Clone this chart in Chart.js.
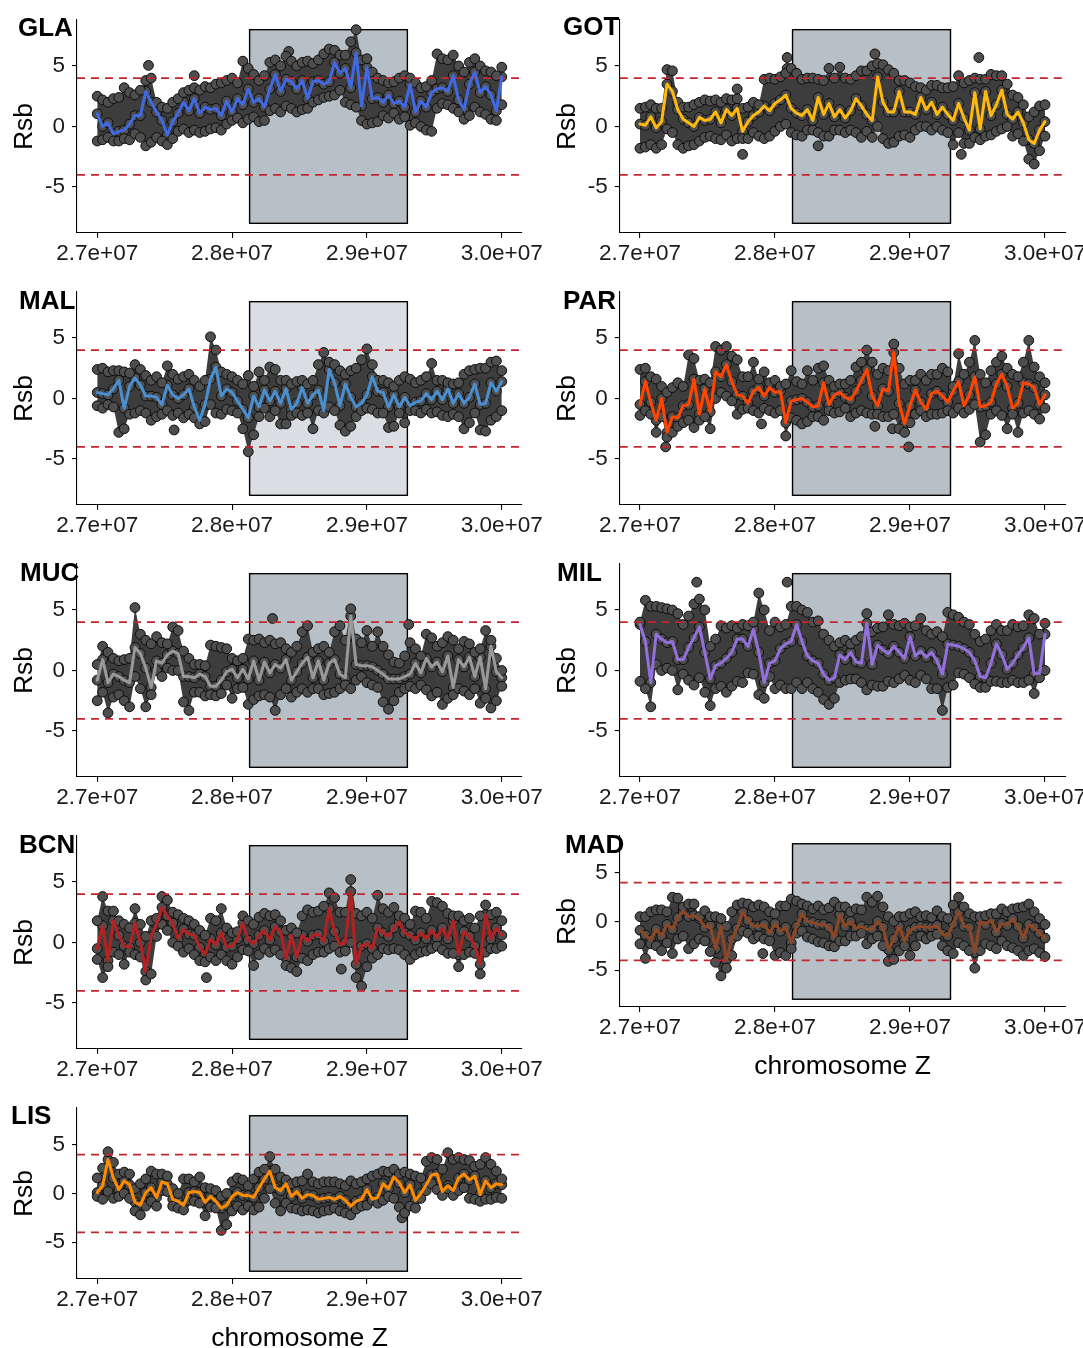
<!DOCTYPE html>
<html>
<head>
<meta charset="utf-8">
<script src="https://cdn.jsdelivr.net/npm/chart.js@4.4.1/dist/chart.umd.min.js"></script>
<style>
html,body{margin:0;padding:0;background:#fff;overflow:hidden;width:1083px;height:1348px;}
canvas{position:absolute;}
.tag{position:absolute;font-family:"Liberation Sans",Arial,Helvetica,sans-serif;font-weight:bold;font-size:26px;line-height:30px;color:#000;white-space:nowrap;}
</style>
</head>
<body>
<script>
// ---------- shared axis data ----------
const positionsMb = [
27.00,27.04,27.08,27.12,27.16,27.20,27.24,27.28,27.32,27.36,
27.40,27.44,27.48,27.52,27.56,27.60,27.64,27.68,27.72,27.76,
27.80,27.84,27.88,27.92,27.96,28.00,28.04,28.08,28.12,28.16,
28.20,28.24,28.28,28.32,28.36,28.40,28.44,28.48,28.52,28.56,
28.60,28.64,28.68,28.72,28.76,28.80,28.84,28.88,28.92,28.96,
29.00,29.04,29.08,29.12,29.16,29.20,29.24,29.28,29.32,29.36,
29.40,29.44,29.48,29.52,29.56,29.60,29.64,29.68,29.72,29.76,
29.80,29.84,29.88,29.92,29.96,30.00];
const xTickValues = [27000000, 28000000, 29000000, 30000000];
const xTickLabels = ['2.7e+07', '2.8e+07', '2.9e+07', '3.0e+07'];
const yTickValues = [-5, 0, 5];
const yTickLabels = ['-5', '0', '5'];
const thresholds = [4, -4];
const regionMb = [28.13, 29.30];
const regionY = [-8, 8];

// ---------- GLA ----------
const GLA_mean = [1.05,0.0,0.3,-0.6,-0.4,-0.3,0.2,0.9,0.9,2.9, 2.0,1.2,0.5,-0.7,0.4,1.1,2.0,1.3,2.3,1.1, 1.6,1.4,1.5,0.9,2.1,1.2,2.3,1.8,3.1,2.0, 2.3,1.6,3.1,4.3,2.9,3.9,3.7,3.1,3.8,2.3, 3.7,3.8,3.5,3.7,5.3,4.4,4.8,3.2,6.1,1.7, 4.9,2.3,2.4,2.0,2.6,1.9,2.1,1.6,3.5,1.2, 2.1,1.6,2.8,3.1,3.2,2.9,4.2,2.2,1.4,3.5, 4.5,2.8,3.3,2.6,1.3,4.1];
const GLA_high = [2.5,2.2,2.0,2.3,2.4,3.2,2.8,2.6,3.0,3.8, 4.0,2.0,1.6,1.5,2.0,2.3,2.8,3.0,3.2,3.0, 3.3,3.2,3.5,3.6,3.8,4.0,3.6,5.4,4.8,4.3, 3.8,4.2,5.3,5.5,5.0,5.8,5.4,5.0,5.3,5.4, 5.2,5.5,6.0,6.4,6.3,5.9,5.9,7.0,8.0,5.5, 5.6,4.5,4.0,3.8,3.6,3.7,4.0,4.2,4.0,3.6, 3.2,3.3,3.8,6.0,5.6,5.5,5.9,5.0,4.5,5.3, 5.6,5.0,4.6,4.5,4.2,4.9];
const GLA_low = [-1.2,-1.1,-0.9,-1.2,-1.2,-1.0,-1.1,-0.6,-0.9,-1.6, -1.3,-0.9,-1.2,-1.5,-1.0,-0.4,-0.2,-0.5,-0.3,-0.5, -0.4,-0.2,-0.1,-0.3,0.2,0.5,0.7,0.3,0.6,0.8, 0.4,0.5,1.3,1.5,1.2,1.7,1.5,1.2,1.4,1.5, 2.0,2.2,2.4,2.5,2.6,3.0,2.0,1.8,1.6,0.5, 0.2,0.3,0.4,0.9,0.7,1.1,0.6,0.8,0.1,0.3, 0.0,-0.3,-0.4,1.5,1.9,1.8,1.5,1.2,0.6,0.9, 1.6,1.2,1.0,0.6,0.5,1.8];
const GLA_outliers = [[27.38,5.05],[27.72,4.2],[28.42,6.2]];

// ---------- GOT ----------
const GOT_mean = [0.2,0.1,0.8,-0.1,0.4,3.5,2.9,1.4,0.6,0.3, 0.0,0.75,0.5,0.6,1.2,0.3,1.4,0.9,1.5,-0.4, 0.4,0.9,1.2,1.7,1.3,1.9,2.2,2.6,1.5,1.1, 0.9,1.4,0.5,2.4,1.0,1.9,0.8,1.4,0.7,1.3, 2.3,1.7,1.0,0.5,4.1,2.0,1.2,1.2,2.9,1.2, 1.2,1.0,2.4,1.4,2.0,1.0,1.6,1.0,0.5,1.9, 0.7,-0.3,2.8,-0.2,2.9,0.9,1.8,3.0,1.0,0.6, 1.2,0.3,-1.1,-1.4,-0.3,0.4];
const GOT_high = [1.5,1.6,1.8,1.5,1.5,4.7,4.6,2.0,1.6,1.6, 1.8,2.0,2.2,2.1,2.2,2.0,2.3,2.2,2.3,1.5, 1.6,2.0,1.8,3.9,4.0,3.9,4.1,4.4,4.8,4.4, 3.9,4.0,4.0,3.9,3.8,4.8,4.0,4.9,4.0,3.9, 4.2,4.6,4.6,5.0,5.2,5.1,4.7,4.4,3.8,3.8, 3.6,3.3,3.2,3.0,3.4,3.4,3.2,3.2,3.3,4.2, 3.6,3.8,4.0,3.9,3.9,4.3,4.2,4.2,3.5,2.6, 2.4,1.8,0.8,1.2,1.7,1.8];
const GOT_low = [-1.8,-1.7,-1.5,-1.8,-1.5,-0.2,-0.5,-1.5,-1.8,-1.6, -1.5,-1.2,-0.9,-0.8,-1.0,-1.1,-0.7,-1.2,-1.0,-1.0, -1.0,-0.5,-0.8,-1.0,-0.8,-0.4,0.0,0.2,-0.5,-0.7, -0.8,-0.3,-0.3,-0.5,-0.8,-0.8,-0.3,-0.3,-0.5,-0.3, -0.5,-0.9,-0.4,-0.9,0.0,-1.0,-1.4,-1.3,-0.8,-0.7, -0.9,-0.3,0.0,0.0,-0.3,0.0,-0.3,-0.5,-1.5,-0.5, -1.4,-1.4,-0.9,-1.1,-0.8,-0.7,-0.4,-0.2,0.0,-0.8, -0.6,-1.2,-2.7,-3.1,-2.0,-0.8];
const GOT_outliers = [[27.72,3.1],[27.76,-2.3],[28.09,5.7],[28.09,4.8],[28.32,-1.6],[28.74,6.0],[29.38,-2.3],[29.51,5.7]];

// ---------- MAL ----------
const MAL_mean = [0.5,0.4,0.3,0.8,1.5,-0.8,1.0,1.7,1.1,0.2, 0.2,0.1,-0.5,1.1,0.3,0.0,0.3,0.8,-0.7,-1.8, -0.5,1.6,2.6,0.2,0.8,0.5,-0.2,-0.9,-1.6,0.2, -0.7,0.7,-0.2,0.6,-0.4,0.8,-0.9,-0.4,0.9,-0.4, 0.3,0.7,-1.0,2.4,1.3,-0.6,1.2,0.1,-0.7,-0.4, 0.3,1.8,0.6,0.5,-0.7,0.3,-0.7,0.1,-0.6,-0.3, -0.2,0.4,-0.1,0.6,-0.1,0.8,-0.4,0.4,-0.4,0.1, 1.2,-0.5,-0.4,1.3,0.6,1.4];
const MAL_high = [2.4,2.5,2.2,2.3,2.3,2.2,2.1,2.8,2.4,1.9, 1.5,1.8,1.3,2.7,2.0,1.6,1.8,2.0,1.5,1.0, 1.5,5.1,4.0,2.2,2.0,1.8,1.5,1.2,1.9,1.0, 2.2,1.5,2.6,2.4,1.5,1.5,1.2,1.4,1.5,1.2, 1.5,2.8,3.8,3.0,2.8,2.3,2.0,2.3,2.5,3.2, 4.1,2.8,1.5,1.5,1.3,1.0,1.5,1.8,1.6,1.3, 1.5,1.8,2.9,1.5,1.5,1.3,1.2,1.3,2.0,2.3, 2.4,2.5,2.5,3.0,3.1,2.3];
const MAL_low = [-0.6,-0.8,-0.5,-0.7,-2.8,-2.5,-1.3,-1.2,-1.0,-1.2, -1.8,-1.5,-1.3,-1.0,-1.4,-1.2,-1.6,-1.3,-1.6,-2.1, -1.9,-0.5,-1.2,-1.3,-0.9,-1.0,-1.2,-2.5,-4.4,-3.0, -1.5,-0.8,-1.5,-1.0,-2.1,-2.1,-1.4,-1.2,-1.4,-1.2, -2.5,-1.0,-1.2,-0.7,-1.0,-2.2,-2.7,-2.3,-1.5,-1.0, -0.8,-0.9,-1.2,-1.2,-2.4,-2.3,-1.2,-2.0,-1.0,-1.0, -1.2,-0.9,-1.2,-1.1,-1.4,-1.5,-1.3,-1.5,-2.5,-2.0, -1.2,-2.6,-2.7,-1.8,-1.5,-1.0];
const MAL_outliers = [[27.57,-2.6]];

// ---------- PAR ----------
const PAR_mean = [-0.5,1.4,-0.3,-1.8,0.0,-2.8,-1.5,-1.6,-0.6,-0.5, 1.6,-1.3,0.8,-1.1,2.2,1.8,2.8,1.4,0.3,0.2, -0.4,0.6,0.9,0.2,0.9,0.5,0.6,-2.0,-0.2,-0.1, 0.0,-0.3,-0.7,-0.6,1.3,-0.5,0.3,0.5,0.1,-0.1, 0.6,1.5,2.4,0.2,-0.6,0.8,0.6,3.8,-0.4,-2.1, -0.6,0.7,-0.3,-0.9,0.4,0.6,0.2,-0.3,0.6,1.4, -0.6,0.3,1.8,-0.7,-0.6,-0.3,1.2,2.0,1.0,-0.8, -0.4,1.3,1.2,0.9,-0.5,0.3];
const PAR_high = [2.4,2.5,1.8,1.6,1.0,0.5,0.9,1.3,1.0,3.6, 3.3,1.5,1.6,1.3,4.3,4.0,4.3,3.5,3.2,1.8, 1.8,3.0,1.6,2.2,1.3,1.5,1.0,1.2,2.3,1.4, 1.2,2.3,1.5,2.5,2.7,1.5,1.0,1.2,1.2,1.5, 2.6,3.0,4.0,3.0,2.0,2.5,2.3,4.5,2.5,1.2, 1.5,1.5,2.0,1.5,2.0,2.0,2.5,2.2,1.0,3.7, 2.0,3.0,4.8,2.0,1.3,2.3,3.0,3.5,2.5,2.0, 1.8,3.0,4.8,2.6,1.8,1.3];
const PAR_low = [-1.4,-1.0,-1.3,-2.8,-1.5,-3.2,-2.8,-2.3,-2.0,-1.8, -2.4,-1.8,-1.5,-2.5,0.0,0.5,0.2,-0.2,-1.3,-0.9, -0.8,-1.0,-1.2,-0.8,-1.0,-1.2,-1.0,-3.1,-1.6,-1.8, -2.1,-1.9,-1.5,-1.5,-1.8,-1.0,-1.2,-1.1,-0.8,-1.5, -1.2,-1.0,-1.2,-1.3,-1.3,-1.5,-1.5,-1.3,-2.5,-2.8, -2.0,-1.3,-1.0,-1.5,-1.3,-1.3,-1.2,-1.0,-1.2,-0.8, -1.2,-0.9,-0.5,-3.6,-3.0,-1.3,-1.0,-1.4,-2.5,-1.3, -2.8,-1.2,-1.0,-1.3,-1.7,-0.8];
const PAR_outliers = [[27.19,-4.0],[27.90,-2.1],[28.74,-2.3],[28.87,-2.5],[28.99,-4.0]];

// ---------- MUC ----------
const MUC_mean = [-0.8,0.9,-1.0,-0.3,-0.5,-0.8,-1.0,1.9,1.4,0.2, -1.4,0.8,0.6,1.3,1.6,1.4,-0.5,-0.5,-0.6,-0.3, -0.5,-1.3,-1.3,-0.8,-0.1,0.1,-0.6,0.1,-0.7,0.8, -0.8,0.7,-0.2,0.5,0.2,0.9,-0.8,-0.1,0.6,1.1, -0.6,0.8,-0.8,0.6,0.9,-0.3,-0.6,4.5,0.5,0.4, 0.4,0.3,0.0,-0.3,-0.7,-0.7,-0.7,-0.5,-0.3,0.6, -0.2,1.0,0.3,0.7,-0.1,1.2,-1.4,0.9,0.3,1.1, -0.5,1.1,-1.5,2.0,-0.1,-0.6];
const MUC_high = [0.5,2.0,1.5,1.0,0.8,0.9,1.0,5.2,3.0,2.5, 2.2,2.8,2.3,2.2,3.6,3.3,1.6,1.0,0.5,0.5, 0.4,2.1,2.0,1.9,1.8,1.0,0.8,1.0,2.6,2.5, 2.6,2.3,2.5,2.2,2.3,1.8,1.5,2.0,3.2,3.7, 1.5,1.8,2.0,1.5,3.2,3.7,2.5,5.1,2.6,2.3, 3.3,2.0,3.2,2.0,1.3,0.7,0.6,1.2,2.3,1.8, 1.2,3.0,2.7,2.0,2.3,2.8,2.5,1.8,2.4,2.2, 1.5,1.8,3.3,2.5,1.0,0.0];
const MUC_low = [-2.5,-1.8,-3.5,-2.2,-2.0,-2.5,-3.0,-0.5,-1.5,-3.0, -2.0,0.0,-0.5,0.2,0.0,0.0,-2.6,-3.3,-1.8,-1.8, -2.1,-2.0,-2.1,-1.9,-1.2,-2.3,-1.5,-1.4,-2.8,-2.4, -2.1,-2.0,-2.2,-3.3,-2.0,-1.5,-2.2,-1.8,-1.5,-1.8, -1.5,-1.5,-2.0,-1.9,-1.8,-1.5,-1.2,-1.5,-0.8,-0.5, -1.0,-1.2,-1.4,-2.6,-3.2,-2.5,-1.8,-1.5,-1.3,-1.5, -1.2,-1.6,-2.1,-1.8,-2.8,-2.3,-2.0,-1.5,-1.7,-2.0, -1.5,-2.7,-2.3,-3.1,-2.5,-1.3];
const MUC_outliers = [[28.30,4.3],[29.31,3.8]];

// ---------- MIL ----------
const MIL_mean = [3.8,2.4,-1.0,3.0,2.6,2.3,2.4,0.9,0.9,1.9, 2.7,3.6,1.5,-0.7,0.4,0.6,1.0,1.5,2.6,2.6, 2.0,3.4,1.5,-1.0,0.6,0.8,1.8,2.2,2.4,3.8, 2.4,1.2,0.8,0.6,-0.3,-0.8,-0.6,1.3,0.9,1.5, 0.7,0.6,3.9,0.5,2.1,1.7,1.4,2.0,1.5,1.0, 2.8,1.2,1.6,1.1,1.5,0.8,-0.3,2.2,2.1,2.0, 1.8,1.5,0.8,-0.5,-0.6,0.6,2.2,1.3,0.1,0.6, 1.3,1.9,2.7,-0.3,-0.2,3.0];
const MIL_high = [4.0,5.8,5.3,5.3,5.2,5.1,5.0,4.7,3.8,4.5, 5.5,5.9,5.0,2.0,2.6,3.7,3.5,3.7,3.5,3.8, 3.7,4.0,6.4,5.0,3.3,4.0,3.6,3.8,5.3,5.3, 5.0,4.8,4.0,4.1,3.0,2.5,2.0,2.3,2.5,2.2, 2.5,2.8,4.7,3.2,3.5,3.6,4.6,3.8,3.7,3.9, 3.6,3.7,4.3,3.3,3.0,3.2,2.8,4.8,4.6,4.4, 4.0,3.8,3.0,2.4,2.6,3.3,3.8,3.3,3.3,3.8, 3.6,3.7,4.6,4.3,3.0,3.9];
const MIL_low = [-0.9,-1.5,-3.0,0.5,0.0,0.2,0.0,-1.6,-0.3,-0.8, -1.2,-0.6,-1.8,-2.9,-1.5,-1.3,-1.8,-1.3,-0.9,-1.0, -0.2,-0.3,-2.0,-2.3,-0.5,-1.5,-1.2,-1.5,-1.5,-1.0, -1.5,-1.0,-1.5,-1.8,-2.4,-2.8,-2.3,-1.0,-0.8,-0.7, -0.7,-1.0,-1.6,-1.2,-1.3,-1.3,-0.9,-1.0,-0.7,-0.4, -0.8,-1.0,-0.4,-0.7,-1.5,-1.5,-3.3,-1.4,-1.2,-0.2, -0.3,-0.6,-1.1,-1.4,-1.4,-0.9,-0.9,-1.0,-1.0,-0.8, -1.0,-1.0,-0.8,-1.9,-0.6,0.0];
const MIL_outliers = [[27.42,7.3],[28.09,7.3]];

// ---------- BCN ----------
const BCN_mean = [-0.5,1.4,-1.5,1.8,0.6,-0.3,-0.4,1.6,0.0,-2.4, 0.5,1.5,2.9,2.2,1.6,0.3,1.1,0.7,0.6,-0.4, -1.0,0.3,-0.2,0.8,-0.4,-0.3,0.3,1.6,0.2,-0.1, 0.6,1.0,0.2,1.3,0.9,-1.3,0.6,-1.2,0.6,0.1, 0.6,0.7,0.1,2.8,0.9,-0.2,0.0,4.2,-1.8,-0.3, -0.1,-0.5,1.2,0.8,0.5,1.2,1.7,0.8,0.6,0.2, 0.8,0.3,1.0,0.4,1.2,0.3,1.8,-1.0,0.9,0.5, -0.3,-1.8,2.3,0.3,1.2,0.6];
const BCN_high = [1.8,3.8,2.6,2.6,1.8,1.5,1.2,2.8,1.5,0.5, 1.8,2.0,3.8,3.5,2.5,2.3,2.0,1.8,1.5,1.0, 0.6,2.0,1.8,2.8,1.2,0.8,0.9,2.2,1.8,1.5, 2.1,2.4,2.2,2.3,1.8,1.0,1.2,0.8,2.2,2.7, 2.5,2.6,3.0,4.1,3.7,2.5,2.5,5.2,2.4,2.2, 2.5,2.0,3.9,2.8,2.5,2.9,2.2,2.0,1.5,2.6, 2.5,2.0,3.4,3.3,3.0,2.4,2.2,2.2,1.8,2.0, 1.2,2.2,3.1,2.3,2.5,1.8];
const BCN_low = [-1.4,-2.9,-2.0,-0.8,-1.0,-1.8,-0.8,-1.0,-1.2,-3.1, -2.6,0.5,1.5,1.0,0.0,-0.3,-0.8,-0.5,-1.0,-1.5, -1.6,-1.2,-1.5,-1.0,-1.5,-1.8,-1.2,-0.6,-0.7,-1.9, -1.0,-0.5,-0.8,-0.6,-1.0,-1.9,-2.1,-2.4,-1.3,-1.5, -1.0,-0.8,-0.8,-0.5,-0.3,-0.8,-0.7,0.0,-2.9,-3.6, -2.0,-1.3,-1.0,-0.5,-0.6,-0.5,-0.6,-1.0,-1.4,-1.0, -0.8,-0.7,-0.5,-0.3,-0.6,-0.9,-0.9,-2.0,-1.0,-0.8, -0.9,-2.6,-0.8,-0.5,-0.5,-0.3];
const BCN_outliers = [[27.81,-2.9],[28.81,-2.2]];

// ---------- MAD ----------
const MAD_mean = [-0.9,-1.4,-1.9,-0.8,-1.5,-0.3,-0.8,0.4,1.1,0.5, 0.6,0.3,-0.6,-0.4,-2.8,-0.5,-4.0,-1.8,-0.7,1.0, 0.1,-0.5,-0.5,-0.3,-1.2,-0.2,-1.0,-0.6,-2.2,-0.5, 0.8,0.0,-0.1,-0.3,-0.3,-0.6,-1.6,0.7,-0.5,0.0, -0.7,-0.5,-0.8,-0.8,0.0,-0.6,-2.9,-1.8,-0.5,-2.0, -0.9,-0.6,-0.5,-0.6,-0.6,-0.4,-1.3,-1.5,-0.2,1.0, -0.5,-0.6,-3.2,0.0,-0.3,0.2,-1.1,-0.2,-0.4,0.3, -0.5,-1.7,-0.3,-0.6,-1.2,-1.7];
const MAD_high = [0.5,0.5,1.0,1.2,1.2,1.0,2.5,2.4,1.5,1.8, 1.8,0.5,1.1,0.5,0.5,0.3,-0.5,1.0,1.7,1.9, 1.8,1.5,1.7,1.5,1.0,0.8,1.6,1.6,2.3,2.1, 1.8,1.6,1.3,1.6,1.2,1.4,2.0,1.5,1.5,1.0, 1.3,1.2,2.5,2.0,2.6,1.5,0.5,0.0,0.5,0.5, 0.8,1.0,0.5,0.6,0.4,1.1,0.5,0.3,1.7,2.5, 1.5,0.8,0.5,0.5,0.6,0.8,0.8,1.3,1.0,1.3, 1.4,1.5,1.8,1.0,0.3,-0.3];
const MAD_low = [-2.3,-3.8,-2.3,-2.5,-3.0,-2.2,-3.3,-1.8,-1.5,-2.8, -2.3,-1.8,-2.0,-3.1,-4.2,-5.6,-4.8,-3.5,-1.5,-1.0, -1.2,-1.8,-1.5,-1.8,-2.0,-3.5,-3.2,-3.5,-2.8,-1.2, -1.0,-1.6,-1.8,-2.1,-2.2,-2.5,-2.6,-2.0,-2.0,-1.5, -1.5,-1.2,-2.3,-1.8,-1.5,-2.5,-4.1,-3.9,-3.0,-2.5, -3.5,-2.5,-1.5,-1.8,-1.5,-1.3,-2.5,-3.0,-3.3,-2.2, -2.5,-3.0,-4.8,-3.0,-2.3,-2.5,-2.8,-2.0,-2.5,-2.7, -3.0,-3.5,-3.0,-2.8,-3.2,-3.6];
const MAD_outliers = [[27.91,-3.3]];

// ---------- LIS ----------
const LIS_mean = [0.1,0.8,3.5,1.6,0.4,1.3,0.9,-0.9,-1.2,0.1, 0.6,-0.4,1.2,1.0,-0.6,-0.8,-1.2,0.1,0.2,0.1, -0.9,-0.3,-0.8,-1.5,-1.2,-0.3,0.1,-0.2,-0.2,-0.4, 0.6,1.5,2.3,0.6,0.3,1.0,-0.3,0.2,-0.5,-0.1, -0.2,-0.6,-0.5,-0.4,-0.6,-0.3,-0.7,-1.3,-0.8,-0.6, 0.4,-0.6,-0.4,1.0,0.5,1.7,1.1,0.1,0.9,-0.7, 0.0,0.9,1.9,2.0,0.2,0.8,0.3,1.6,2.0,1.4, 1.8,-0.1,1.3,0.6,1.0,0.9];
const LIS_high = [1.6,2.6,4.3,3.2,2.0,2.2,2.0,0.5,1.0,1.5, 2.3,2.0,2.0,1.8,0.5,0.0,1.5,1.5,1.2,1.7, 0.6,0.5,0.3,-0.3,0.0,1.2,1.6,1.4,0.8,1.5, 2.2,2.5,3.8,2.5,1.7,1.4,1.0,1.2,1.3,2.0, 1.2,1.0,1.2,1.2,1.2,1.0,0.8,1.3,1.0,1.2, 1.5,1.8,2.0,2.3,2.2,2.5,2.0,2.2,2.0,1.8, 1.6,3.3,3.7,3.5,2.5,4.2,3.5,3.7,3.5,3.4, 2.8,3.0,3.7,3.0,2.3,1.5];
const LIS_low = [-0.3,-0.6,0.2,-0.5,-0.3,0.0,-0.5,-1.8,-2.2,-1.3, -0.8,-1.3,0.3,0.2,-1.3,-1.5,-1.7,-0.7,-0.8,-1.0, -2.3,-1.4,-1.5,-3.8,-3.2,-1.8,-1.3,-1.7,-1.3,-1.7, -1.4,-0.5,0.5,-1.0,-1.8,-1.0,-1.5,-1.6,-1.8,-1.7, -1.8,-2.0,-1.8,-1.7,-1.5,-1.8,-2.0,-2.2,-1.6,-1.3, -1.2,-0.7,-1.0,-0.7,-0.3,-0.5,-1.4,-2.0,-1.3,-1.5, -0.5,0.3,1.0,0.4,-0.2,0.5,-0.2,0.3,0.6,-0.5, -0.6,-0.8,-0.6,-0.6,-0.4,-0.5];
const LIS_outliers = [[29.26,-2.5]];

// ---------- panels ----------
const panels = [
  {name:'GLA', mean:GLA_mean, high:GLA_high, low:GLA_low, outliers:GLA_outliers, color:'#4169E1', box:'#B8C0C7', col:0, row:0, last:false, tagX:18, tagY:27},
  {name:'GOT', mean:GOT_mean, high:GOT_high, low:GOT_low, outliers:GOT_outliers, color:'#FFB90F', box:'#B8C0C7', col:1, row:0, last:false, tagX:563, tagY:26},
  {name:'MAL', mean:MAL_mean, high:MAL_high, low:MAL_low, outliers:MAL_outliers, color:'#4A8FCF', box:'#DADEE3', col:0, row:1, last:false, tagX:19, tagY:300},
  {name:'PAR', mean:PAR_mean, high:PAR_high, low:PAR_low, outliers:PAR_outliers, color:'#FF4500', box:'#B8C0C7', col:1, row:1, last:false, tagX:563, tagY:300},
  {name:'MUC', mean:MUC_mean, high:MUC_high, low:MUC_low, outliers:MUC_outliers, color:'#999999', box:'#B8C0C7', col:0, row:2, last:false, tagX:20, tagY:572},
  {name:'MIL', mean:MIL_mean, high:MIL_high, low:MIL_low, outliers:MIL_outliers, color:'#9370DB', box:'#B8C0C7', col:1, row:2, last:false, tagX:557, tagY:572},
  {name:'BCN', mean:BCN_mean, high:BCN_high, low:BCN_low, outliers:BCN_outliers, color:'#B22222', box:'#B8C0C7', col:0, row:3, last:false, tagX:19, tagY:844},
  {name:'MAD', mean:MAD_mean, high:MAD_high, low:MAD_low, outliers:MAD_outliers, color:'#8B4726', box:'#B8C0C7', col:1, row:3, last:true, tagX:565, tagY:844},
  {name:'LIS', mean:LIS_mean, high:LIS_high, low:LIS_low, outliers:LIS_outliers, color:'#FF8C00', box:'#B8C0C7', col:0, row:4, last:true, tagX:11, tagY:1115}
];

// ---------- layout (pixels) ----------
const FONT = '"Liberation Sans", Arial, Helvetica, sans-serif';
Chart.defaults.font.family = FONT;
const COLS = [
  {left:0,   width:545, axisW:77,    plotRight:522,    titlePad:8.5},
  {left:541, width:542, axisW:78.75, plotRight:524.25, titlePad:10.8}
];
const TOP_PAD = 12;
function rowTop(r){ return 19.5 + 272 * r; }

const regionPlugin = {
  id: 'region',
  beforeDraw(chart, args, opts) {
    const {ctx, scales:{x, y}} = chart;
    const x1 = x.getPixelForValue(regionMb[0] * 1e6), x2 = x.getPixelForValue(regionMb[1] * 1e6);
    const y1 = y.getPixelForValue(regionY[1]), y2 = y.getPixelForValue(regionY[0]);
    ctx.save();
    ctx.fillStyle = opts.fill;
    ctx.fillRect(x1, y1, x2 - x1, y2 - y1);
    ctx.strokeStyle = '#000';
    ctx.lineWidth = 1.4;
    ctx.strokeRect(x1, y1, x2 - x1, y2 - y1);
    ctx.restore();
  },
  beforeDatasetDraw(chart, args) {
    if (args.index !== 0) return;
    const {ctx, chartArea, scales:{y}} = chart;
    ctx.save();
    ctx.strokeStyle = '#C2272D';
    ctx.lineWidth = 1.7;
    ctx.setLineDash([8, 6]);
    thresholds.forEach(t => {
      const py = y.getPixelForValue(t);
      ctx.beginPath();
      ctx.moveTo(chartArea.left, py);
      ctx.lineTo(chartArea.right, py);
      ctx.stroke();
    });
    ctx.restore();
  }
};

const xsBp = positionsMb.map(m => m * 1e6);
const toPoints = arr => arr.map((v, i) => ({x: xsBp[i], y: v}));

panels.forEach(p => {
  const col = COLS[p.col];
  const plotTop = rowTop(p.row);
  const plotH = p.last ? 171 : 213;
  const xAxisH = p.last ? 76 : 42;
  const H = Math.round(TOP_PAD + plotH + xAxisH);
  const cv = document.createElement('canvas');
  cv.width = col.width; cv.height = H;
  cv.style.left = col.left + 'px';
  cv.style.top = (plotTop - TOP_PAD) + 'px';
  cv.style.width = col.width + 'px';
  cv.style.height = H + 'px';
  document.body.appendChild(cv);

  const tag = document.createElement('div');
  tag.className = 'tag';
  tag.textContent = p.name;
  tag.style.left = p.tagX + 'px';
  tag.style.top = (p.tagY - 15) + 'px';
  document.body.appendChild(tag);

  const pointStyle = {showLine:false, pointRadius:4.9, pointBackgroundColor:'#4e4e4e', pointBorderColor:'#0d0d0d', pointBorderWidth:1, order:3};
  const axisCommon = {
    grid: {drawOnChartArea:false, drawTicks:true, tickLength:5, color:'#000', lineWidth:1.1},
    border: {display:true, color:'#000', width:1.1}
  };

  new Chart(cv, {
    type: 'line',
    data: {
      datasets: [
        {data: toPoints(p.mean), borderColor:p.color, borderWidth:3, pointRadius:0, tension:0, fill:false, order:0, borderJoinStyle:'round', borderCapStyle:'round'},
        {data: toPoints(p.high), borderColor:'rgba(0,0,0,0)', borderWidth:1, pointRadius:0, fill:'+1', backgroundColor:'#3d3d3d', order:9},
        {data: toPoints(p.low), borderColor:'rgba(0,0,0,0)', borderWidth:1, pointRadius:0, fill:false, order:9},
        Object.assign({data: toPoints(p.high)}, pointStyle),
        Object.assign({data: toPoints(p.low)}, pointStyle),
        Object.assign({data: toPoints(p.mean)}, pointStyle),
        Object.assign({data: p.outliers.map(([m, v]) => ({x: m * 1e6, y: v}))}, pointStyle)
      ]
    },
    options: {
      responsive: false,
      animation: false,
      devicePixelRatio: 1,
      events: [],
      layout: {padding: {left:0, top:TOP_PAD, right: col.width - col.plotRight, bottom:0}},
      plugins: {legend:{display:false}, tooltip:{enabled:false}, region:{fill:p.box}},
      scales: {
        x: Object.assign({
          type:'linear', min:26850000, max:30150000,
          afterBuildTicks: s => { s.ticks = xTickValues.map(v => ({value:v})); },
          afterFit: s => { s.height = xAxisH; s.paddingLeft = 0; s.paddingRight = 0; },
          ticks: {color:'#1a1a1a', font:{size:22.5}, padding:2, maxRotation:0, autoSkip:false,
                  callback: v => { const k = xTickValues.indexOf(v); return k >= 0 ? xTickLabels[k] : ''; }},
          title: {display:p.last, text:'chromosome Z', color:'#000', font:{size:26.5}, padding:{top:0, bottom:0}}
        }, axisCommon),
        y: Object.assign({
          type:'linear', min:-8.8, max:8.8,
          afterBuildTicks: s => { s.ticks = yTickValues.map(v => ({value:v})); },
          afterFit: s => { s.width = col.axisW; s.paddingTop = 0; s.paddingBottom = 0; },
          ticks: {color:'#1a1a1a', font:{size:22.5}, padding:7,
                  callback: v => { const k = yTickValues.indexOf(v); return k >= 0 ? yTickLabels[k] : ''; }},
          title: {display:true, text:'Rsb', color:'#000', font:{size:26.5}, padding:{top:col.titlePad, bottom:0}}
        }, axisCommon)
      }
    },
    plugins: [regionPlugin]
  });
});
</script>
</body>
</html>
